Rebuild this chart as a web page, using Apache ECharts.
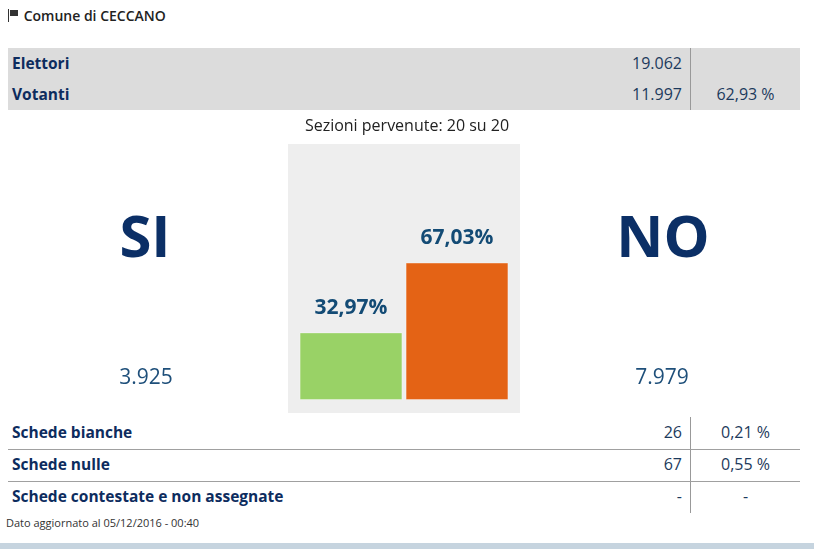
<!DOCTYPE html>
<html>
<head>
<meta charset="utf-8">
<script src="https://cdn.jsdelivr.net/npm/echarts@6/dist/echarts.min.js"></script>
<style>
body { margin: 0; background: #fff; font-family: "Open Sans", sans-serif; }
#page { position: relative; width: 814px; height: 549px; overflow: hidden; }
.abs { position: absolute; }
.lbl { color: #0d2c5e; font-weight: bold; font-size: 15.5px; }
.val { color: #1d3a5c; font-size: 16px; }
#titolo { left: 8px; top: 6px; font-size: 14px; font-weight: 600; color: #222; }
#flag { display: inline-block; position: relative; width: 12px; height: 13px; vertical-align: -1px; }
#flag:before { content: ""; position: absolute; left: 0; top: 0; width: 1px; height: 13px; background: #333; }
#flag:after { content: ""; position: absolute; left: 2px; top: 1px; width: 8px; height: 6px; background: #333; }
#top { left: 8px; top: 48px; width: 792px; height: 62px; background: #dcdcdc; }
.vline { position: absolute; left: 682px; width: 1px; background: #999; }
.row { position: absolute; left: 0; width: 792px; height: 31px; line-height: 31px; }
.row .lbl { position: absolute; left: 4px; }
.row .num { position: absolute; right: 118px; }
.row .pct { position: absolute; left: 683px; width: 109px; text-align: center; }
#box { left: 288px; top: 144px; width: 232px; height: 269px; background: #eeeeee; }
#chart { left: 0; top: 112px; width: 814px; height: 304px; }
#bottom { left: 8px; top: 417px; width: 792px; height: 96px; }
.hline { position: absolute; left: 0; width: 792px; height: 1px; background: #a0a0a0; }
#dato { left: 6px; top: 515px; font-size: 11px; color: #333; }
#strip { left: 0; top: 543px; width: 814px; height: 6px; background: #c6d4df; }
</style>
</head>
<body>
<div id="page">
  <div id="titolo" class="abs"><span id="flag"></span> Comune di CECCANO</div>
  <div id="top" class="abs"></div>
  <div id="box" class="abs"></div>
  <div id="chart" class="abs"></div>
  <div id="bottom" class="abs"></div>
  <div id="dato" class="abs"></div>
  <div id="strip" class="abs"></div>
</div>
<script>
// dati del comune
var comune = 'CECCANO';
var sezioni = 'Sezioni pervenute: 20 su 20';
var affluenzaLabel = ['Elettori', 'Votanti'];
var affluenzaNum = [19062, 11997];
var affluenzaPct = ['', '62,93 %'];
var risposte = ['SI', 'NO'];
var percentuali = [32.97, 67.03];
var voti = [3925, 7979];
var barColors = ['#99d266', '#e46315'];
var schedeLabel = ['Schede bianche', 'Schede nulle', 'Schede contestate e non assegnate'];
var schedeNum = ['26', '67', '-'];
var schedePct = ['0,21 %', '0,55 %', '-'];
var aggiornato = 'Dato aggiornato al 05/12/2016 - 00:40';

function migliaia(n) {
	return String(n).replace(/\B(?=(\d{3})+(?!\d))/g, '.');
}
function virgola(n) {
	return n.toFixed(2).replace('.', ',');
}

$ = function(id) { return document.getElementById(id); };

// tabella affluenza e schede
function initTabelle() {
	var html = '<div class="vline" style="top:0;height:62px"></div>';
	for (var i = 0; i < affluenzaLabel.length; i++) {
		html += '<div class="row" style="top:' + (i * 31) + 'px">' +
			'<span class="lbl">' + affluenzaLabel[i] + '</span>' +
			'<span class="num val">' + migliaia(affluenzaNum[i]) + '</span>' +
			'<span class="pct val">' + affluenzaPct[i] + '</span></div>';
	}
	$('top').innerHTML = html;

	html = '<div class="vline" style="top:0;height:96px"></div>';
	for (var j = 0; j < schedeLabel.length; j++) {
		html += '<div class="row" style="top:' + (j * 32) + 'px">' +
			'<span class="lbl">' + schedeLabel[j] + '</span>' +
			'<span class="num val">' + schedeNum[j] + '</span>' +
			'<span class="pct val">' + schedePct[j] + '</span></div>';
		if (j < schedeLabel.length - 1) {
			html += '<div class="hline" style="top:' + (j * 32 + 32) + 'px"></div>';
		}
	}
	$('bottom').innerHTML = html;
	$('dato').innerHTML = aggiornato;
}

// grafico SI / NO
function initGrafico() {
	var myChart = echarts.init($('chart'));
	var option = {
		animation : false,
		graphic : [ {
			type : 'text', left : 'center', top : 6,
			style : { text : sezioni, fontSize : 16, fill : '#222', fontFamily : 'Open Sans' }
		}, {
			type : 'text', x : 145, y : 128,
			style : { text : risposte[0], fontSize : 58, fontWeight : 'bold', fill : '#0b2f66',
				fontFamily : 'Open Sans', align : 'center', verticalAlign : 'middle' }
		}, {
			type : 'text', x : 663, y : 128,
			style : { text : risposte[1], fontSize : 58, fontWeight : 'bold', fill : '#0b2f66',
				fontFamily : 'Open Sans', align : 'center', verticalAlign : 'middle' }
		}, {
			type : 'text', x : 146, y : 266,
			style : { text : migliaia(voti[0]), fontSize : 21, fill : '#1e4f7a',
				fontFamily : 'Open Sans', align : 'center', verticalAlign : 'middle' }
		}, {
			type : 'text', x : 662, y : 266,
			style : { text : migliaia(voti[1]), fontSize : 21, fill : '#1e4f7a',
				fontFamily : 'Open Sans', align : 'center', verticalAlign : 'middle' }
		} ],
		grid : { left : 298, width : 212, top : 83, height : 205 },
		xAxis : { type : 'category', data : risposte, show : false },
		yAxis : { type : 'value', min : 0, max : 100, show : false },
		series : [ {
			type : 'bar',
			barCategoryGap : '3%',
			data : percentuali.map(function(v, i) {
				return { value : v, itemStyle : { color : barColors[i] } };
			}),
			itemStyle : { borderColor : 'rgba(255,255,255,0.35)', borderWidth : 1 },
			label : {
				show : true, position : 'top', distance : 14,
				formatter : function(p) { return virgola(p.value) + '%'; },
				fontSize : 21, fontWeight : 'bold', color : '#134b75', fontFamily : 'Open Sans'
			}
		} ]
	};
	myChart.setOption(option);
}

initTabelle();
initGrafico();
</script>
</body>
</html>
